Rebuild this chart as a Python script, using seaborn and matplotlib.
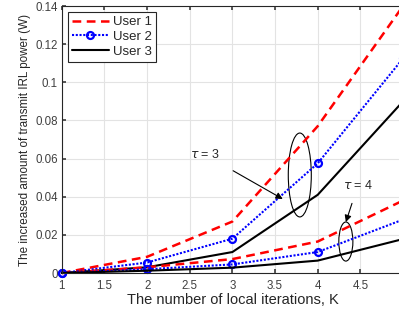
import matplotlib
matplotlib.use('Agg')
import matplotlib.pyplot as plt
from matplotlib.patches import Ellipse
import seaborn as sns
import pandas as pd

# Data
K = [1, 2, 3, 4, 5]
user1_tau3 = [0.0, 0.0085, 0.027, 0.077, 0.140]
user2_tau3 = [0.0, 0.0055, 0.018, 0.0575, 0.1125]
user3_tau3 = [0.0, 0.0030, 0.011, 0.041, 0.090]
user1_tau4 = [0.0, 0.0030, 0.0073, 0.0165, 0.038]
user2_tau4 = [0.0, 0.0020, 0.0045, 0.011, 0.028]
user3_tau4 = [0.0, 0.0012, 0.0028, 0.0065, 0.0178]

x_ticks = [1, 1.5, 2, 2.5, 3, 3.5, 4, 4.5]
y_ticks = [0, 0.02, 0.04, 0.06, 0.08, 0.1, 0.12, 0.14]
y_tick_labels = ['0', '0.02', '0.04', '0.06', '0.08', '0.1', '0.12', '0.14']

sns.set_theme(style='whitegrid')
plt.rcParams['font.family'] = ['Liberation Sans', 'DejaVu Sans']
plt.rcParams['mathtext.fontset'] = 'dejavusans'

fig = plt.figure(figsize=(3.99, 3.18), dpi=100)
ax = fig.add_axes([0.155, 0.1415, 0.855, 0.8395])

styles = {
    'User 1': dict(color='red', linestyle=(0, (3.5, 2.2)), linewidth=1.8),
    'User 2': dict(color='blue', linestyle=(0, (1, 0.8)), linewidth=1.5),
    'User 3': dict(color='black', linestyle='-', linewidth=1.5),
}

series = [
    ('User 1', user1_tau3, True), ('User 2', user2_tau3, True), ('User 3', user3_tau3, True),
    ('User 1', user1_tau4, False), ('User 2', user2_tau4, False), ('User 3', user3_tau4, False),
]

handles = {}
for name, vals, show in series:
    df = pd.DataFrame({'K': K, 'power': vals})
    sns.lineplot(data=df, x='K', y='power', ax=ax, clip_on=False, **styles[name])
    line = ax.lines[-1]
    if name == 'User 2':
        line.set_marker('o')
        line.set_markersize(5)
        line.set_markerfacecolor('none')
        line.set_markeredgecolor('blue')
        line.set_markeredgewidth(1.6)
    if show:
        handles[name] = line

ax.set_xlim(1, 5)
ax.set_ylim(0, 0.14)
ax.set_xticks(x_ticks)
ax.set_xticklabels([f'{t:g}' for t in x_ticks])
ax.set_yticks(y_ticks)
ax.set_yticklabels(y_tick_labels)
ax.tick_params(direction='in', length=3, labelsize=8.3, colors='#404040', pad=3,
               top=True, right=True, bottom=True, left=True)
ax.tick_params(axis='x', pad=5)
ax.grid(True, color='#e3e3e3', linewidth=0.8)
for sp in ax.spines.values():
    sp.set_color('#262626')
    sp.set_linewidth(0.8)

ax.set_xlabel('The number of local iterations, K', fontsize=10.5, color='#262626', labelpad=1)
ax.set_ylabel('The increased amount of transmit IRL power (W)', fontsize=8.4, color='#262626', labelpad=3)

leg = ax.legend(list(handles.values()), list(handles.keys()), loc='upper left', fontsize=9.5,
                frameon=True, fancybox=False, edgecolor='#262626', borderpad=0.3,
                labelspacing=0.2, handlelength=2.8, handletextpad=0.3, borderaxespad=0.45)
leg.get_frame().set_linewidth(0.8)
leg.get_frame().set_alpha(1)

# tau annotations
ax.add_patch(Ellipse((3.79, 0.0514), 0.27, 0.044, fill=False, edgecolor='black', linewidth=0.8))
ax.add_patch(Ellipse((4.33, 0.0165), 0.165, 0.0205, fill=False, edgecolor='black', linewidth=0.8))
ax.annotate(r'$\tau$ = 3', xy=(3.59, 0.0388), xytext=(2.68, 0.062), fontsize=9,
            ha='center', va='center',
            arrowprops=dict(arrowstyle='-|>', color='black', linewidth=0.8, mutation_scale=10,
                            shrinkA=9, shrinkB=0))
ax.annotate(r'$\tau$ = 4', xy=(4.33, 0.0267), xytext=(4.47, 0.0458), fontsize=9,
            ha='center', va='center',
            arrowprops=dict(arrowstyle='-|>', color='black', linewidth=0.8, mutation_scale=10,
                            shrinkA=6, shrinkB=0))

fig.savefig('out.png', dpi=100)
